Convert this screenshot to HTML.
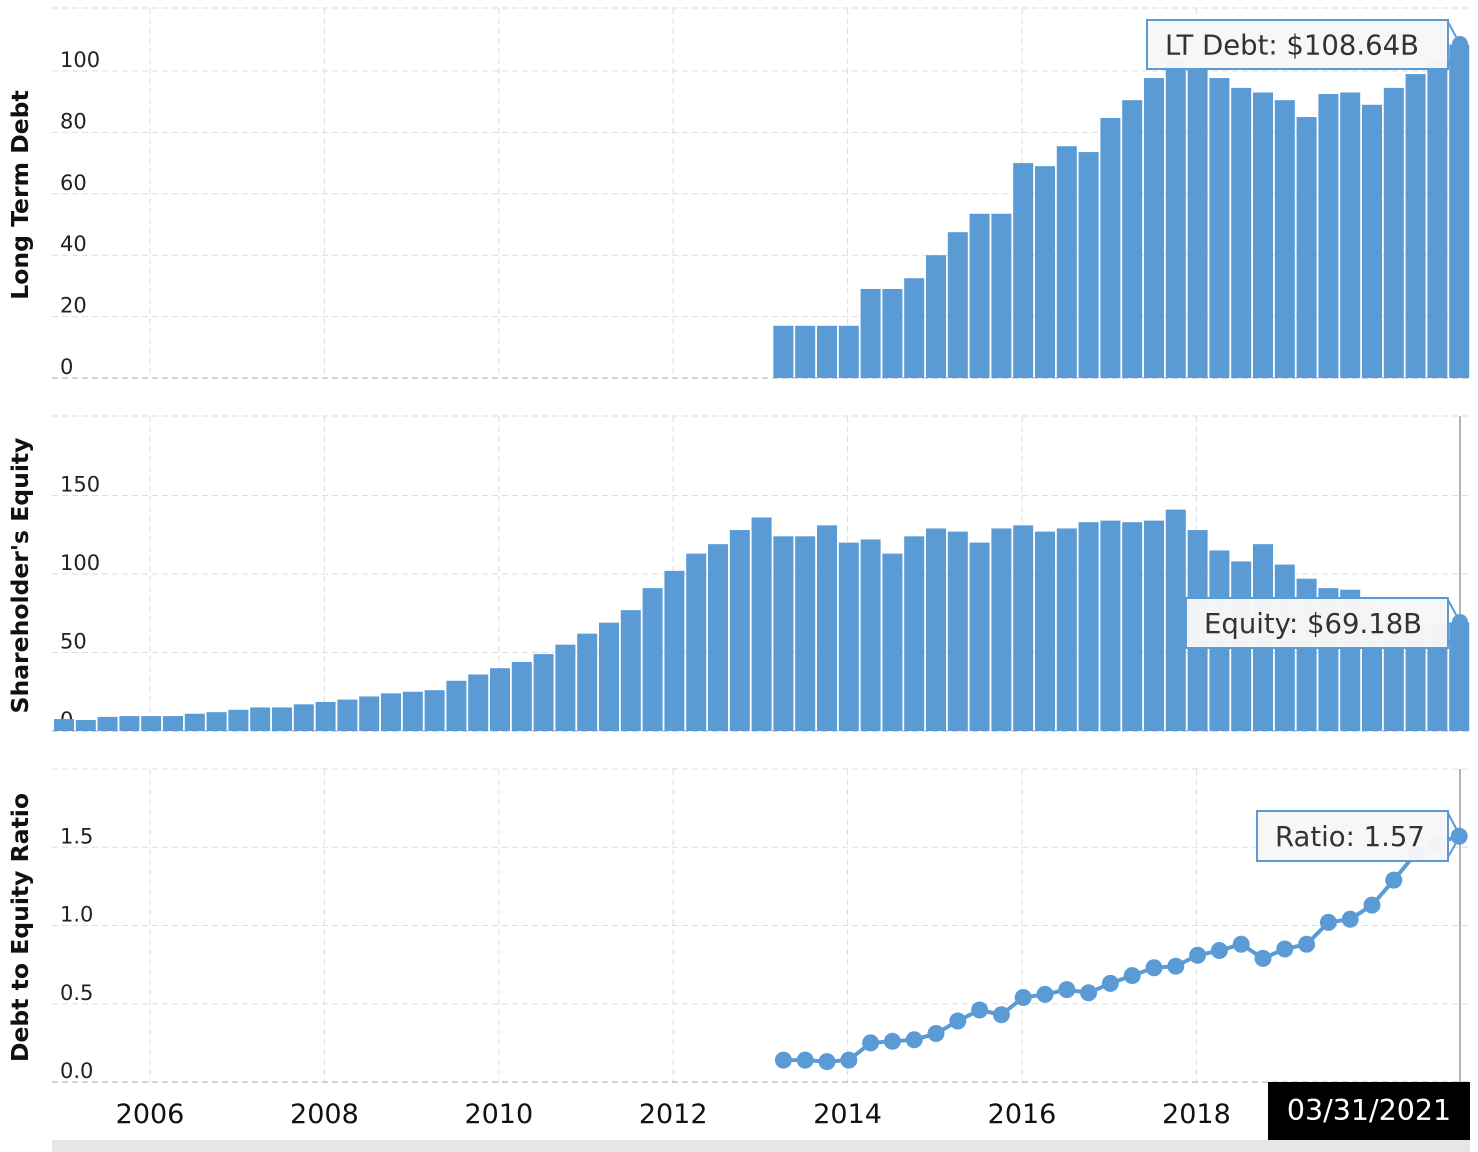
<!DOCTYPE html>
<html><head><meta charset="utf-8">
<style>
html,body{margin:0;padding:0;background:#fff;width:1478px;height:1152px;overflow:hidden}
svg{display:block;font-family:"DejaVu Sans","Liberation Sans",sans-serif}
</style></head>
<body>
<svg id="chart" width="1478" height="1152" viewBox="0 0 1478 1152" xmlns="http://www.w3.org/2000/svg"></svg>
<script>
const yearLabels = ["2006","2008","2010","2012","2014","2016","2018"];
const yearValues = [2006,2008,2010,2012,2014,2016,2018];
const debtTicks = [0,20,40,60,80,100];
const equityTicks = [0,50,100,150];
const ratioTicks = [0,0.5,1.0,1.5];
const equity = [7.6,7,9,9.5,9.5,9.5,11,12,13.5,15,15,17,18.5,20,22,24,25,26,32,36,40,44,49,55,62,69,77,91,102,113,119,128,136,124,124,131,120,122,113,124,129,127,120,129,131,127,129,133,134,133,134,141,128,115,108,119,106,97,91,90,79,73,68,68,69.18];
const debt = [null,null,null,null,null,null,null,null,null,null,null,null,null,null,null,null,null,null,null,null,null,null,null,null,null,null,null,null,null,null,null,null,null,17,17,17,17,29,29,32.5,40,47.5,53.5,53.5,70,69,75.5,73.6,84.7,90.5,97.7,103.5,101,97.7,94.5,93,90.5,85,92.5,93,89,94.5,99,103.6,108.64];
const ratio = [null,null,null,null,null,null,null,null,null,null,null,null,null,null,null,null,null,null,null,null,null,null,null,null,null,null,null,null,null,null,null,null,null,0.14,0.14,0.13,0.14,0.25,0.26,0.27,0.31,0.39,0.46,0.43,0.54,0.56,0.59,0.57,0.63,0.68,0.73,0.74,0.81,0.84,0.88,0.79,0.85,0.88,1.02,1.04,1.13,1.29,1.46,1.53,1.57];

const NS="http://www.w3.org/2000/svg";
const svg=document.getElementById('chart');
function el(tag,attrs,parent){const e=document.createElementNS(NS,tag);for(const k in attrs)e.setAttribute(k,attrs[k]);(parent||svg).appendChild(e);return e;}
const step=21.8, x0=64;
const xIdx=i=>x0+i*step;
const xYear=y=>150+(y-2006)*87.2;
const panels=[
 {top:8,base:378,scale:3.07,ticks:debtTicks,title:"Long Term Debt",name:"debt"},
 {top:416,base:731,scale:1.57,ticks:equityTicks,title:"Shareholder's Equity",name:"equity"},
 {top:769,base:1082,scale:156.5,ticks:ratioTicks,title:"Debt to Equity Ratio",name:"ratio"}
];
const C="#5b9bd5";
panels.forEach(p=>{
  const g=el('g',{});
  
  
  el('line',{x1:52,x2:1470,y1:p.top,y2:p.top,stroke:"#ddd","stroke-dasharray":"6,4"},g);
  yearValues.forEach(y=>{const l=el('line',{x1:xYear(y),x2:xYear(y),y1:p.top,y2:p.base,stroke:"#ddd","stroke-dasharray":"6,4"},g);
    });
  p.ticks.forEach(t=>{const y=p.base-t*p.scale;
    const l=el('line',{x1:52,x2:1470,y1:y,y2:y,stroke:t===0?"#aaa":"#ddd","stroke-dasharray":"6,4"},g);
    
    const tx=el('text',{x:60,y:y-4,"font-size":21,fill:"#222"},g);
    tx.textContent=p.name==="ratio"?t.toFixed(1):t;
    });
  const cy=(p.top+p.base)/2;
  const tt=el('text',{x:0,y:0,"font-size":23.5,"font-weight":"bold",fill:"#111","text-anchor":"middle",transform:`translate(28,${cy+2}) rotate(-90)`},g);
  tt.textContent=p.title;
  
});
[[416,731],[769,1082]].forEach(r=>{const l=el('line',{x1:1460,x2:1460,y1:r[0],y2:r[1],stroke:"#999","stroke-width":1.5});
 });
function bars(arr,p,name){arr.forEach((v,i)=>{if(v==null)return;const h=v*p.scale;
  const r=el('rect',{x:xIdx(i)-10,y:p.base-h,width:20,height:h,fill:C});
  });}
bars(debt,panels[0],'debt-bar');
bars(equity,panels[1],'equity-bar');
const pts=[];ratio.forEach((v,i)=>{if(v!=null)pts.push([xIdx(i),panels[2].base-v*panels[2].scale]);});
const line=el('polyline',{points:pts.map(p=>p.join(',')).join(' '),fill:"none",stroke:C,"stroke-width":4});

pts.forEach(p=>{const c=el('circle',{cx:p[0],cy:p[1],r:8.5,fill:C});
 });
function tip(x1,y1,y2,txt,name,ax,ay){
  const g=el('g',{});
  
  el('rect',{x:x1,y:y1,width:1448-x1,height:y2-y1,fill:"rgba(247,247,247,0.97)",stroke:C,"stroke-width":2},g);
  el('line',{x1:1448,y1:y1+2,x2:ax,y2:ay,stroke:C,"stroke-width":2},g);
  el('line',{x1:1448,y1:y2-4,x2:ax,y2:ay,stroke:C,"stroke-width":2},g);
  const t=el('text',{x:x1+18,y:(y1+y2)/2+10,"font-size":27.5,fill:"#333"},g);t.textContent=txt;
}
tip(1147,20,69,"LT Debt: $108.64B","debt-tooltip",1460,44);
tip(1186,598,648,"Equity: $69.18B","equity-tooltip",1460,622);
tip(1257,811,861,"Ratio: 1.57","ratio-tooltip",1460,836);
const lt=el('circle',{cx:1460,cy:44,r:8,fill:C});
const le=el('circle',{cx:1460,cy:622,r:8,fill:C});
yearValues.forEach((y,i)=>{const t=el('text',{x:xYear(y),y:1123,"font-size":27,fill:"#111","text-anchor":"middle"});
 t.textContent=yearLabels[i];});
const db=el('rect',{x:1268,y:1082,width:202,height:58,fill:"#000"});

const dt=el('text',{x:1369,y:1120,"font-size":28.5,fill:"#fff","text-anchor":"middle"});dt.textContent="03/31/2021";

const sb=el('rect',{x:52,y:1140,width:1418,height:12,fill:"#e6e6e6"});

</script>
</body></html>
